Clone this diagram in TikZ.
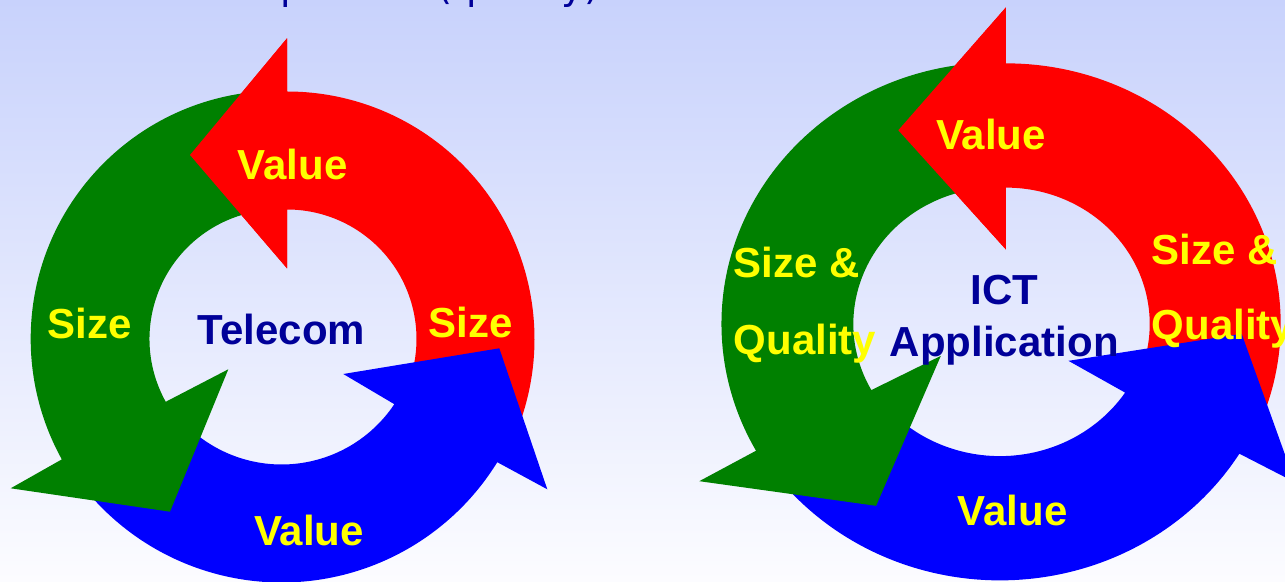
\documentclass[tikz,border=0pt]{standalone}
\usepackage{fontspec}
\setmainfont{Liberation Sans}
\newfontfamily\titlefont{DejaVu Sans}
\definecolor{arred}{RGB}{255,0,0}
\definecolor{argreen}{RGB}{0,128,0}
\definecolor{arblue}{RGB}{0,0,255}
\definecolor{labyellow}{RGB}{255,255,0}
\definecolor{navytext}{RGB}{0,0,153}
\definecolor{bgtop}{RGB}{200,210,252}
\definecolor{bgbot}{RGB}{252,252,255}
\newcommand{\cyclearrows}{%
  % red arrow (body tail hidden under blue head)
  \fill[redarrow] (287,489.5) arc[start angle=90,end angle=-25,radius=247.5]
     -- (404.37,187.27) arc[start angle=-25,end angle=90,radius=129.5]
     -- (287,312.7) -- (190,426) -- (287,542.7) -- cycle;
  % blue arrow
  \fill[bluearrow] (73.94,106.60) arc[start angle=215,end angle=328.3,radius=253.5]
     -- (547.3,91.7) -- (499.3,232.7) -- (343.3,207)
     -- (394.33,176.82) arc[start angle=326.3,end angle=215,radius=135.5] -- cycle;
  % green arrow
  \fill[greenarrow] (270.33,490.15) arc[start angle=92,end angle=209,radius=248.3]
     -- (10.7,92.7) -- (170,69.3) -- (228.3,211.7)
     -- (165.74,179.22) arc[start angle=209,end angle=92,radius=129.5] -- cycle;
  % red head on top of the green tail
  \fill[redarrow] (287,542.7) -- (190,426) -- (287,312.7) -- cycle;
}
\begin{document}
\begin{tikzpicture}[x=1pt,y=1pt,
  redarrow/.style={fill=arred},
  greenarrow/.style={fill=argreen},
  bluearrow/.style={fill=arblue},
  ylab/.style={text=labyellow,font=\bfseries\fontsize{42}{42}\selectfont,inner sep=0pt},
  nlab/.style={text=navytext,font=\bfseries\fontsize{42}{42}\selectfont,inner sep=0pt},
  ttl/.style={text=navytext,font=\titlefont\fontsize{38.5}{38.5}\selectfont,inner sep=0pt,anchor=base west}]
\useasboundingbox (0,0) rectangle (1285,581);
\clip (0,0) rectangle (1285,581);
\shade[top color=bgtop,bottom color=bgbot] (0,0) rectangle (1285,581);

% left cycle
\begin{scope}
  \cyclearrows
\end{scope}
% right cycle
\begin{scope}[shift={(687.4,2.2)},xscale=1.11,yscale=1.053]
  \cyclearrows
\end{scope}

% left labels
\node[ylab,anchor=base] (lv1) at (292.7,401.5) {Value};
\node[ylab,anchor=base] (ls1) at (89.5,242) {Size};
\node[ylab,anchor=base] (ls2) at (470.5,243.5) {Size};
\node[nlab,anchor=base] (ltc) at (281.5,236) {Telecom};
\node[ylab,anchor=base] (lv2) at (309,35) {Value};

% right labels
\node[ylab,anchor=base] (rv1) at (991,431) {Value};
\node[ylab,anchor=base west] (rs1) at (733.6,303) {Size \&};
\node[ylab,anchor=base west] (rq1) at (733.6,226) {Quality};
\node[ylab,anchor=base west] (rs2) at (1151.7,316) {Size \&};
\node[ylab,anchor=base west] (rq2) at (1151.7,241) {Quality};
\node[nlab,anchor=base] (rict) at (1004.6,276) {ICT};
\node[nlab,anchor=base] (rapp) at (1004.3,224.3) {Application};
\node[ylab,anchor=base] (rv2) at (1012.5,55) {Value};

% cut-off title fragments
\node[ttl] (t1) at (280,581.8) {p};
\node[ttl] (t2) at (437.3,581.8) {(quality)};
\end{tikzpicture}
\end{document}
